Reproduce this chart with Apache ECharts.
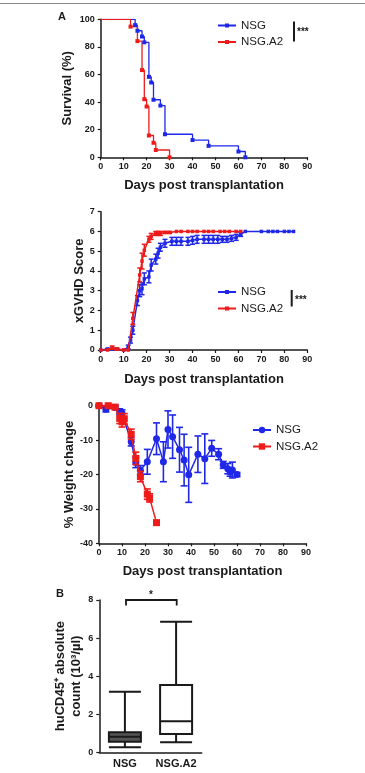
<!DOCTYPE html>
<html><head><meta charset="utf-8">
<script src="https://cdn.jsdelivr.net/npm/echarts@6/dist/echarts.min.js"></script>
<style>html,body{margin:0;padding:0;background:#fff}#c{width:365px;height:773px}</style>
</head><body><div id="c"></div>
<script>
// ---- Panel A1: survival ----
const survDaysNSG = [0,15,16,18,19,21,22,23,26,28,40,47,60,63];
const survNSG     = [100,95.8,91.7,87.5,83.3,58.3,54.2,41.7,37.5,16.7,12.5,8.3,4.2,0];
const survDaysA2  = [0,13,16,18,19,20,21,23,24,30];
const survA2      = [100,94.7,84.2,63.2,42.1,36.8,15.8,10.5,5.3,0];
// ---- Panel A2: xGVHD score (mean, SEM) ----
const gvDaysNSG = [0,3,5,7,10,12,13,14,16,17,18,19,21,22,24,25,26,28,31,33,35,38,40,42,45,47,49,51,53,55,57,59,61,63,70,73,75,77,80,82,84];
const gvNSG     = [0,0.05,0.05,0.05,0,0.15,0.5,1.0,2.5,3.0,3.1,3.6,3.7,4.3,4.6,4.9,5.2,5.4,5.5,5.5,5.5,5.5,5.55,5.6,5.6,5.6,5.6,5.6,5.6,5.6,5.65,5.7,5.85,6,6,6,6,6,6,6,6];
const gvErrNSG  = [0,0.03,0.03,0.03,0,0.1,0.15,0.2,0.25,0.3,0.3,0.3,0.3,0.3,0.25,0.25,0.2,0.2,0.2,0.2,0.2,0.2,0.2,0.2,0.2,0.2,0.2,0.2,0.15,0.15,0.15,0.15,0.1,0,0,0,0,0,0,0,0];
const gvDaysA2  = [0,3,5,7,10,12,14,17,18,19,21,22,24,25,26,28,30,33,35,38,40,42,45,47,49,52,54,56,59,61];
const gvA2      = [0,0,0.12,0.05,0,0,1.6,3.8,4.5,5.05,5.6,5.75,5.9,5.9,5.9,5.95,5.95,6,6,6,6,6,6,6,6,6,6,6,6,6];
const gvErrA2   = [0,0,0.08,0.05,0,0,0.3,0.35,0.4,0.3,0.15,0.15,0.1,0.1,0.1,0.05,0.05,0,0,0,0,0,0,0,0,0,0,0,0,0];
// ---- Panel A3: % weight change (mean, SEM) ----
const wtDaysNSG = [0,3,7,9,10,14,16,18,21,25,28,30,32,35,37,39,43,46,49,52,54,56,57,58,60];
const wtNSG     = [0,-1,-0.5,-1.7,-2.2,-10.5,-16.5,-18.8,-16.3,-9.6,-16.3,-6.9,-9.0,-12.8,-15.8,-20.1,-14.1,-15.4,-12.4,-14.1,-17.2,-18.3,-19.3,-18.7,-20.0];
const wtErrNSG  = [0.3,0.8,0.5,0.8,1.0,1.2,1.5,1.4,3.6,4.6,5.8,5.4,6.3,6.5,7.5,8.0,5.3,7.2,2.3,1.6,1.0,1.5,1.2,2.3,0.6];
const wtDaysA2  = [0,4,7,9,10,11,14,16,18,21,22,25];
const wtA2      = [0,0,-0.4,-3.7,-4.7,-3.8,-8.3,-15.3,-20.6,-25.7,-26.8,-34];
const wtErrA2   = [0.3,0.3,0.5,1.5,1.5,1.5,1.5,1.8,1.5,1.5,1.2,0.4];
// ---- Panel B: huCD45+ counts box plot ----
const boxCats = ['NSG','NSG.A2'];
const boxNSG  = [0.26,0.56,0.82,1.05,3.18];   // min, Q1, median, Q3, max
const boxA2   = [0.53,0.96,1.63,3.53,6.86];
const xTicks = [0,10,20,30,40,50,60,70,80,90];

const BLUE = '#1f27e8', RED = '#ee1b1b', INK = '#1a1a1a';
const FF = "'Liberation Sans', Arial, sans-serif";

const zip = (xs, ys) => xs.map((x,i)=>[x, ys[i]]);
const errData = (xs, ys, es) => xs.map((x,i)=>[x, ys[i]-es[i], ys[i]+es[i], es[i]]);

function errRender(color, cap, lw){
  return function(params, api){
    if (api.value(3) <= 0) return null;
    const x = api.value(0);
    const p1 = api.coord([x, api.value(1)]), p2 = api.coord([x, api.value(2)]);
    const st = {stroke: color, lineWidth: lw};
    return {type:'group', children:[
      {type:'line', shape:{x1:p1[0],y1:p1[1],x2:p2[0],y2:p2[1]}, style:st},
      {type:'line', shape:{x1:p1[0]-cap,y1:p1[1],x2:p1[0]+cap,y2:p1[1]}, style:st},
      {type:'line', shape:{x1:p2[0]-cap,y1:p2[1],x2:p2[0]+cap,y2:p2[1]}, style:st}
    ]};
  };
}

function xAx(gi, name, gap){
  return {gridIndex: gi, type:'value', min:0, max:90, interval:10,
    name: name, nameLocation:'middle', nameGap: gap, nameMoveOverlap:false,
    nameTextStyle:{fontFamily:FF, fontWeight:'bold', fontSize:13, color:INK},
    axisLine:{onZero:false, lineStyle:{color:INK, width:1.5}},
    axisTick:{show:true, length:3, lineStyle:{color:INK, width:1.2}},
    axisLabel:{fontFamily:FF, fontWeight:'bold', fontSize:9, color:INK, margin:5},
    splitLine:{show:false}};
}
function yAx(gi, name, gap, min, max, interval){
  return {gridIndex: gi, type:'value', min:min, max:max, interval:interval,
    name: name, nameLocation:'middle', nameGap: gap, nameRotate:90, nameMoveOverlap:false,
    nameTextStyle:{fontFamily:FF, fontWeight:'bold', fontSize:13, color:INK, lineHeight:15.5},
    axisLine:{show:true, onZero:false, lineStyle:{color:INK, width:1.5}},
    axisTick:{show:true, length:3, lineStyle:{color:INK, width:1.2}},
    axisLabel:{fontFamily:FF, fontWeight:'bold', fontSize:9, color:INK, margin:6},
    splitLine:{show:false}};
}
function legendAt(left, top, names, ih){
  return {left:left, top:top, orient:'vertical', itemWidth:18, itemHeight:ih, itemGap:2.5, padding:0,
    data:names, formatter: n => n.split('#')[0], selectedMode:false,
    textStyle:{fontFamily:FF, fontSize:11.5, color:INK, lineHeight:14}};
}

const chart = echarts.init(document.getElementById('c'), null, {renderer:'canvas'});
const survItems = (xs, ys) => xs.map((x,i)=> i===0 ? {value:[x,ys[i]], symbol:'none'} : [x, ys[i]]);

chart.setOption({
  animation:false,
  grid:[
    {left:100.7, top:19.3, width:206.6, height:138},
    {left:100.7, top:211.7, width:206.6, height:138.3},
    {left:99, top:405.7, width:207, height:137.6},
    {left:99.3, top:600, width:102.4, height:152.3}
  ],
  xAxis:[
    xAx(0,'Days post transplantation',22),
    xAx(1,'Days post transplantation',23),
    xAx(2,'Days post transplantation',22),
    {gridIndex:3, type:'category', data:boxCats,
      axisLine:{lineStyle:{color:INK, width:1.5}}, axisTick:{show:false},
      axisLabel:{fontFamily:FF, fontWeight:'bold', fontSize:11, color:INK, margin:6, interval:0}}
  ],
  yAxis:[
    yAx(0,'Survival (%)',26,0,100,20),
    yAx(1,'xGVHD Score',14,0,7,1),
    yAx(2,'% Weight change',22,-40,0,10),
    yAx(3,'huCD45\u207A absolute\ncount (10\u00B3/\u00B5l)',15.5,0,8,2)
  ],
  legend:[
    legendAt(217, 18.5, ['NSG#1','NSG.A2#1'], 5),
    legendAt(217, 285, ['NSG#2','NSG.A2#2'], 5),
    legendAt(252, 423, ['NSG#3','NSG.A2#3'], 8)
  ],
  series:[
    {name:'NSG#1', type:'line', step:'end', xAxisIndex:0, yAxisIndex:0, data:survItems(survDaysNSG, survNSG),
      symbol:'rect', symbolSize:4, color:BLUE, lineStyle:{width:1.3}},
    {name:'NSG.A2#1', type:'line', step:'end', xAxisIndex:0, yAxisIndex:0, data:survItems(survDaysA2, survA2),
      symbol:'rect', symbolSize:4, color:RED, lineStyle:{width:1.3}},

    {name:'errNSG2', type:'custom', xAxisIndex:1, yAxisIndex:1, data:errData(gvDaysNSG, gvNSG, gvErrNSG),
      encode:{x:0, y:[1,2]}, renderItem: errRender(BLUE, 2.5, 1.5), z:2},
    {name:'NSG#2', type:'line', xAxisIndex:1, yAxisIndex:1, data:zip(gvDaysNSG, gvNSG),
      symbol:'rect', symbolSize:3.5, color:BLUE, lineStyle:{width:1.5}, z:3},
    {name:'errA22', type:'custom', xAxisIndex:1, yAxisIndex:1, data:errData(gvDaysA2, gvA2, gvErrA2),
      encode:{x:0, y:[1,2]}, renderItem: errRender(RED, 2.5, 1.5), z:4},
    {name:'NSG.A2#2', type:'line', xAxisIndex:1, yAxisIndex:1, data:zip(gvDaysA2, gvA2),
      symbol:'rect', symbolSize:3.5, color:RED, lineStyle:{width:1.5}, z:5},

    {name:'errNSG3', type:'custom', xAxisIndex:2, yAxisIndex:2, data:errData(wtDaysNSG, wtNSG, wtErrNSG),
      encode:{x:0, y:[1,2]}, renderItem: errRender(BLUE, 3.5, 1.6), z:2},
    {name:'NSG#3', type:'line', xAxisIndex:2, yAxisIndex:2, data:zip(wtDaysNSG, wtNSG),
      symbol:'circle', symbolSize:7, color:BLUE, lineStyle:{width:1.5}, z:3},
    {name:'errA23', type:'custom', xAxisIndex:2, yAxisIndex:2, data:errData(wtDaysA2, wtA2, wtErrA2),
      encode:{x:0, y:[1,2]}, renderItem: errRender(RED, 3.5, 1.6), z:4},
    {name:'NSG.A2#3', type:'line', xAxisIndex:2, yAxisIndex:2, data:zip(wtDaysA2, wtA2),
      symbol:'rect', symbolSize:7, color:RED, lineStyle:{width:1.5}, z:5},

    {name:'box', type:'boxplot', xAxisIndex:3, yAxisIndex:3, boxWidth:[32,32],
      itemStyle:{borderColor:INK, borderWidth:2},
      data:[{value:boxNSG, itemStyle:{color:'#555'}}, {value:boxA2, itemStyle:{color:'#fff'}}]}
  ],
  graphic:[
    {type:'rect', shape:{x:0,y:3,width:365,height:1}, style:{fill:'#8a8a8a'}},
    {type:'text', x:58, y:11, style:{text:'A', font:"bold 11px "+FF, fill:INK}},
    {type:'text', x:56, y:588, style:{text:'B', font:"bold 11px "+FF, fill:INK}},
    {type:'line', shape:{x1:294,y1:21.5,x2:294,y2:41.5}, style:{stroke:INK, lineWidth:2}},
    {type:'text', x:297, y:27, style:{text:'***', font:"bold 10px "+FF, fill:INK}},
    {type:'line', shape:{x1:291.7,y1:290,x2:291.7,y2:306.5}, style:{stroke:INK, lineWidth:2}},
    {type:'text', x:295, y:295, style:{text:'***', font:"bold 10px "+FF, fill:INK}},
    {type:'polyline', shape:{points:[[126,605.5],[126,600],[176.7,600],[176.7,605.5]]}, style:{stroke:INK, lineWidth:1.8, fill:null}},
    {type:'text', x:149, y:590, style:{text:'*', font:"bold 10px "+FF, fill:INK}}
  ]
});
</script></body></html>
